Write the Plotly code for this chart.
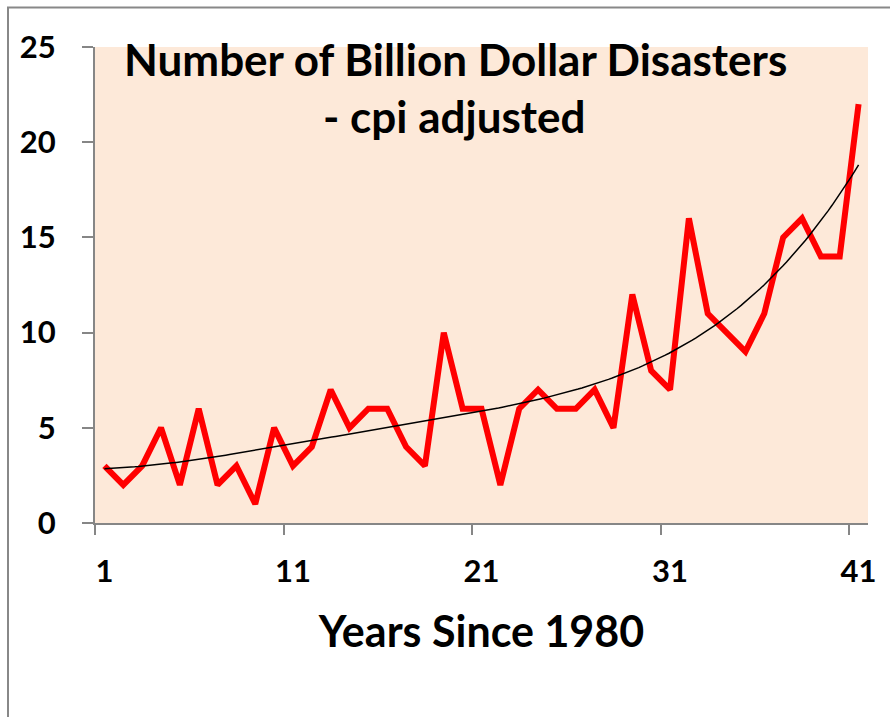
import numpy as np
import plotly.graph_objects as go

years = list(range(1, 42))
disasters = [3, 2, 3, 5, 2, 6, 2, 3, 1, 5, 3, 4, 7, 5, 6, 6, 4, 3, 10, 6,
             6, 2, 6, 7, 6, 6, 7, 5, 12, 8, 7, 16, 11, 10, 9, 11, 15, 16, 14, 14, 22]
x_tick_labels = ["1", "11", "21", "31", "41"]
x_tick_vals = [1, 11, 21, 31, 41]
y_tick_vals = [0, 5, 10, 15, 20, 25]

# 4th-order polynomial trendline fitted to the data (as the spreadsheet does)
xa = np.array(years, dtype=float)
ya = np.array(disasters, dtype=float)
coef = np.polyfit(xa, ya, 4)
xs = np.linspace(1, 41, 200)
trend = np.polyval(coef, xs)

L, R, T, B = 95, 22, 47, 194
W, H = 890, 717
pw, ph = W - L - R, H - T - B

fig = go.Figure()
fig.add_trace(go.Scatter(x=years, y=disasters, mode="lines",
                         line=dict(color="#FF0000", width=6), showlegend=False))
fig.add_trace(go.Scatter(x=xs, y=trend, mode="lines",
                         line=dict(color="black", width=1.5), showlegend=False))

font_b = dict(family="Lato", color="black", weight="bold")


def px_x(p):
    return (p - L) / pw


def px_y(p):
    return 1 - (p - T) / ph


fig.add_annotation(text="Number of Billion Dollar Disasters", xref="paper", yref="paper",
                   x=px_x(455), y=px_y(59), xanchor="center", yanchor="middle",
                   showarrow=False, font=dict(size=44, **font_b))
fig.add_annotation(text="- cpi adjusted", xref="paper", yref="paper",
                   x=px_x(454), y=px_y(116), xanchor="center", yanchor="middle",
                   showarrow=False, font=dict(size=44, **font_b))

fig.add_shape(type="rect", xref="paper", yref="paper",
              x0=px_x(8), x1=px_x(905), y0=px_y(7.5), y1=px_y(740),
              line=dict(color="#888888", width=2), layer="below")

fig.update_layout(
    width=W, height=H, autosize=False,
    margin=dict(l=L, r=R, t=T, b=B),
    paper_bgcolor="white", plot_bgcolor="#FDE9D9",
    xaxis=dict(range=[0.5, 41.5], tickmode="array", tickvals=x_tick_vals, ticktext=x_tick_labels,
               ticks="outside", ticklen=20, tickcolor="rgba(0,0,0,0)",
               tickfont=dict(size=31, **font_b),
               showline=True, linecolor="#868686", linewidth=2,
               showgrid=False, zeroline=False,
               minor=dict(tickmode="array", tickvals=[0.5, 10.5, 20.5, 30.5, 40.5],
                          ticks="outside", ticklen=10, tickcolor="#868686", tickwidth=2, showgrid=False),
               title=dict(text="Years Since 1980", font=dict(size=43, **font_b), standoff=29)),
    yaxis=dict(range=[0, 25], tickmode="array", tickvals=y_tick_vals,
               ticks="outside", ticklen=11, tickcolor="#868686", tickwidth=2,
               ticklabelstandoff=20,
               tickfont=dict(size=31, **font_b),
               showline=True, linecolor="#868686", linewidth=2,
               showgrid=False, zeroline=False),
)

fig.write_html("out.html")
